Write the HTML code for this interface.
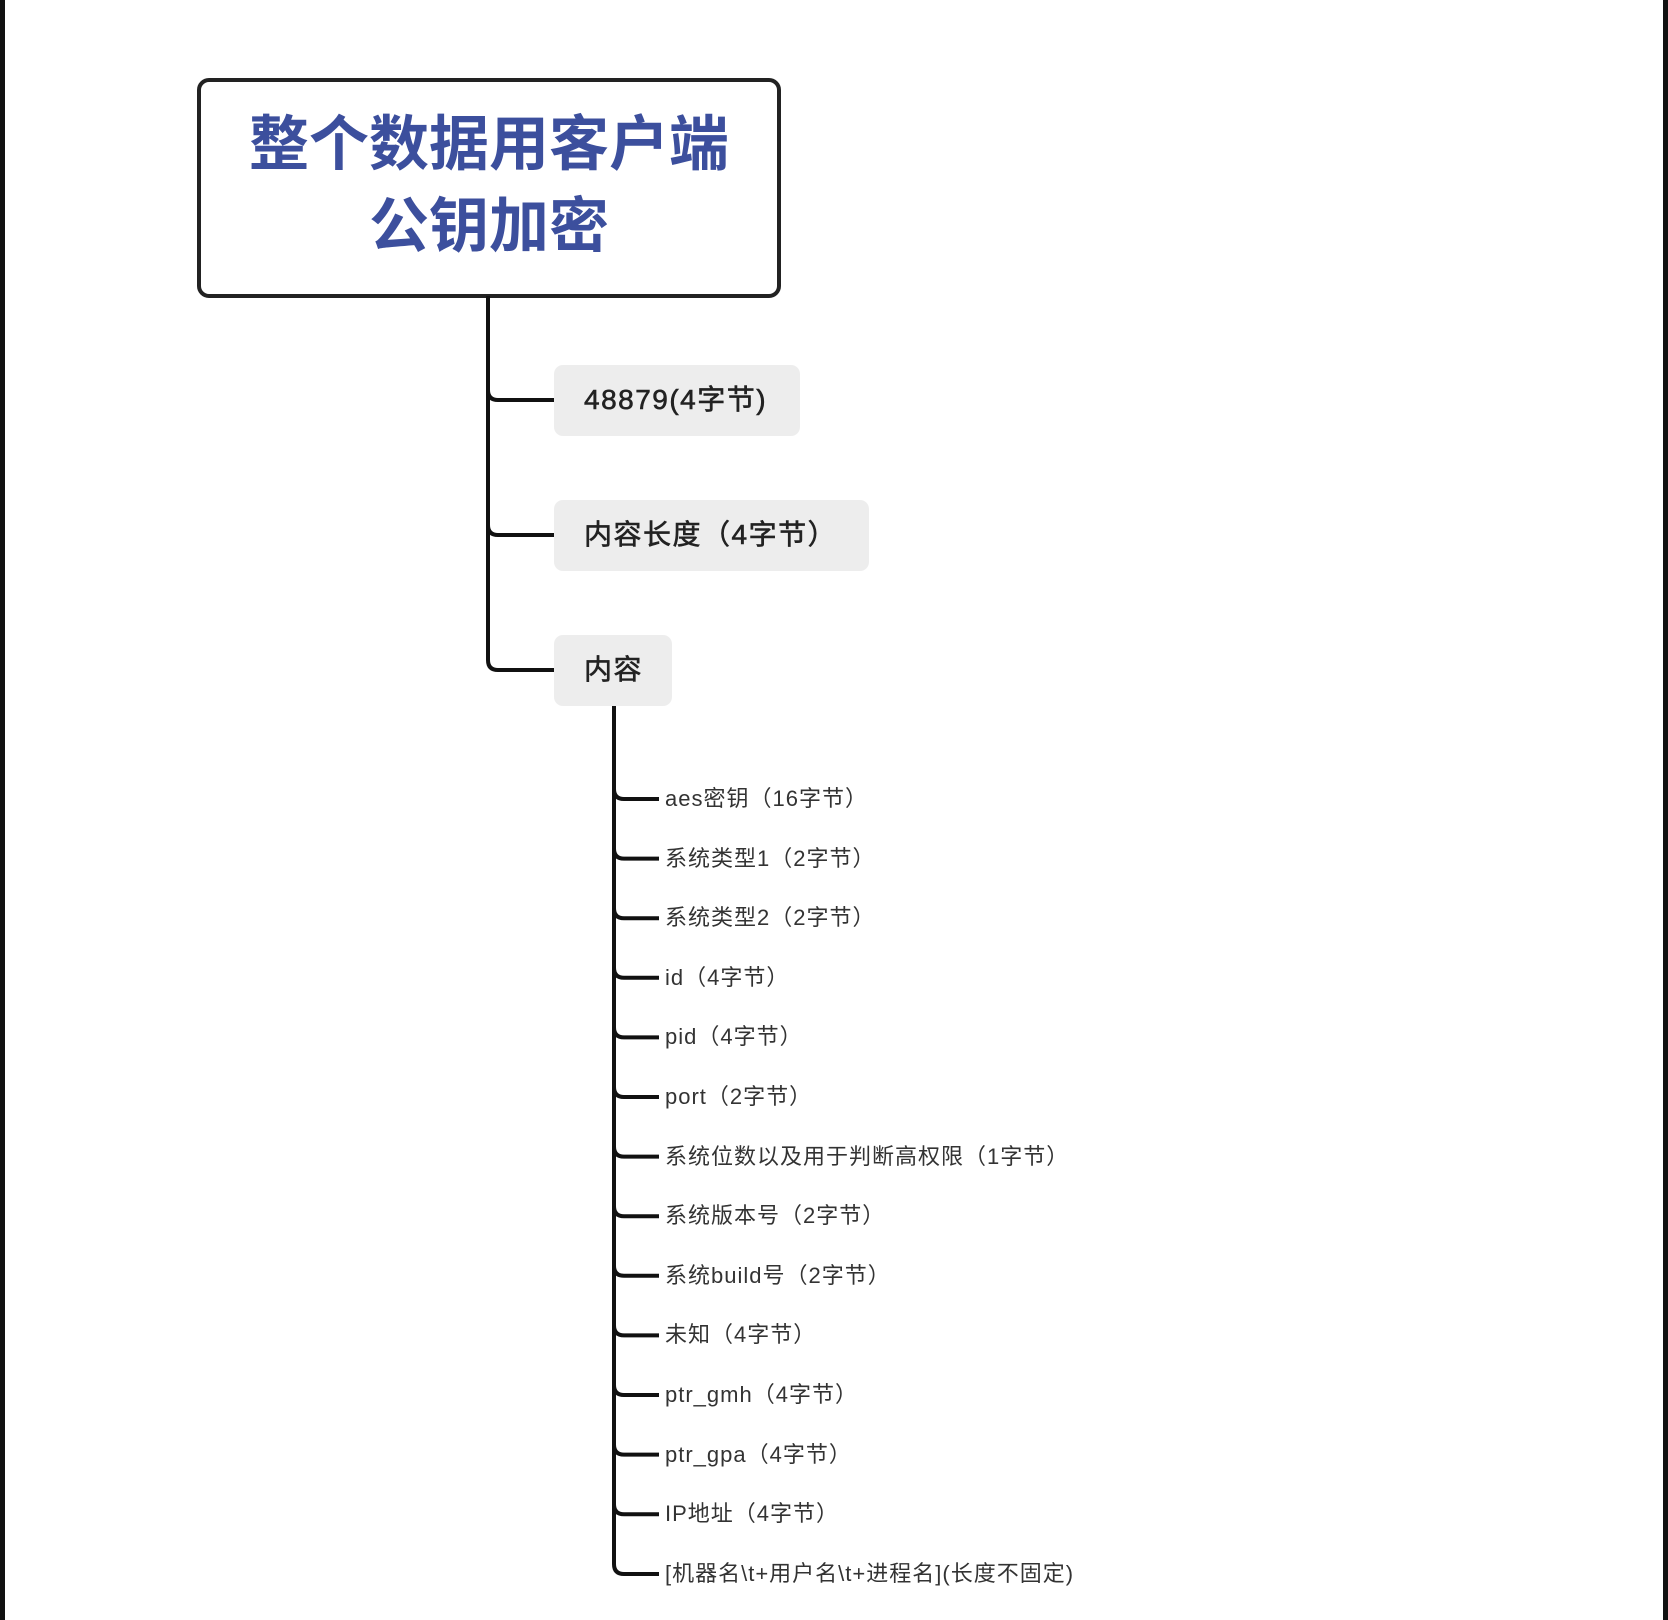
<!DOCTYPE html>
<html><head><meta charset="utf-8"><style>
html,body{margin:0;padding:0;background:#fff;}
body{width:1668px;height:1620px;position:relative;overflow:hidden;font-family:"Liberation Sans","Noto Sans CJK SC",sans-serif;}
.t{position:absolute;white-space:nowrap;color:#222;}
.n{font-size:28px;line-height:32px;letter-spacing:1.5px;-webkit-text-stroke:0.6px #222;}
</style></head><body>
<div style="position:absolute;left:0;top:0;width:5px;height:1620px;background:#111"></div>
<div style="position:absolute;left:1663px;top:0;width:5px;height:1620px;background:#111"></div>
<svg width="1668" height="1620" style="position:absolute;left:0;top:0">
<rect x="199" y="80" width="580" height="216" rx="10" fill="#fff" stroke="#222" stroke-width="4"/>
<g fill="none" stroke="#111" stroke-width="4">
<path d="M488 296 V660 Q488 670 498 670 H554"/>
<path d="M488 390 Q488 400 498 400 H554"/>
<path d="M488 525 Q488 535 498 535 H554"/>
<path d="M614 706 V1564 Q614 1574 624 1574 H659"/>
</g>
<rect x="554" y="365" width="246" height="71" rx="9" fill="#ededed"/>
<rect x="554" y="500" width="315" height="71" rx="9" fill="#ededed"/>
<rect x="554" y="635" width="118" height="71" rx="9" fill="#ededed"/>
<g fill="none" stroke="#111" stroke-width="4" id="br"></g>
</svg>
<div class="t" style="left:199px;top:104px;width:580px;text-align:center;font-size:60px;font-weight:bold;color:#3c4f9d;line-height:82px;">整个数据用客户端<br>公钥加密</div>
<div class="t n" style="left:584px;top:384px;">48879(4字节)</div>
<div class="t n" style="left:584px;top:519px;">内容长度（4字节）</div>
<div class="t n" style="left:584px;top:654px;">内容</div>
<div id="kids"></div>
<script>
var items=["aes密钥（16字节）","系统类型1（2字节）","系统类型2（2字节）","id（4字节）","pid（4字节）","port（2字节）","系统位数以及用于判断高权限（1字节）","系统版本号（2字节）","系统build号（2字节）","未知（4字节）","ptr_gmh（4字节）","ptr_gpa（4字节）","IP地址（4字节）","[机器名\\t+用户名\\t+进程名](长度不固定)"];
var h="",g="";
items.forEach(function(s,i){var y=799+i*59.6;
if(i<items.length-1) g+='<path d="M614 '+(y-10)+' Q614 '+y+' 624 '+y+' H659"/>';
h+='<div class="t" style="left:665px;top:'+(y-14)+'px;font-size:22px;letter-spacing:1px;line-height:28px;color:#333">'+s.replace(/</g,"&lt;")+'</div>';});
document.getElementById("kids").innerHTML=h;
document.getElementById("br").innerHTML=g;
</script>
</body></html>
